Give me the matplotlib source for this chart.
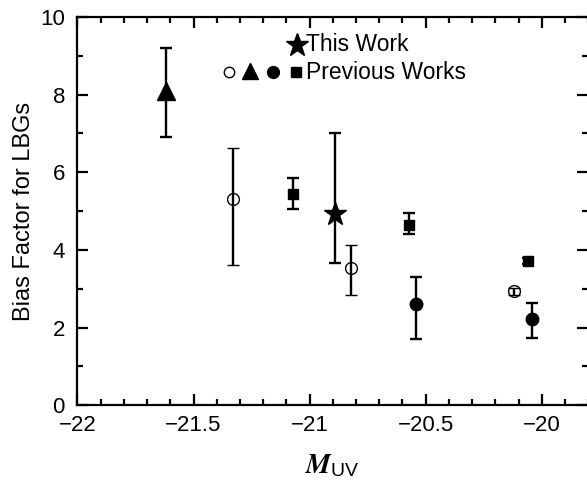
import numpy as np
from matplotlib import pyplot as plt

plt.rcParams['font.family'] = ['Liberation Sans', 'DejaVu Sans']
plt.rcParams['mathtext.fontset'] = 'stix'

# M_UV, bias, upper and lower errors
star_x = [-20.89]
star_y = [4.92]
star_up = [2.08]
star_lo = [1.25]

tri_x = [-21.62]
tri_y = [8.1]
tri_up = [1.1]
tri_lo = [1.2]

open_x = [-21.33, -20.82, -20.12]
open_y = [5.32, 3.53, 2.93]
open_up = [1.3, 0.6, 0.1]
open_lo = [1.7, 0.7, 0.1]

fill_x = [-20.54, -20.04]
fill_y = [2.6, 2.22]
fill_up = [0.7, 0.4]
fill_lo = [0.9, 0.5]

sq_x = [-21.07, -20.57, -20.06]
sq_y = [5.45, 4.65, 3.72]
sq_up = [0.4, 0.3, 0.08]
sq_lo = [0.4, 0.25, 0.08]


def main():
    fig = plt.figure(figsize=(5.87, 4.87), dpi=100)
    ax = fig.add_axes([0.132, 0.168, 0.87, 0.797])

    err_kw = dict(ls='none', ecolor='black', elinewidth=1.7, capsize=4, capthick=1.7, color='black')
    ax.errorbar(tri_x, tri_y, yerr=[tri_lo, tri_up], marker='^', ms=13, **err_kw)
    ax.errorbar(open_x, open_y, yerr=[open_lo, open_up], marker='o', ms=8.5, mfc='none', mew=1.0, **err_kw)
    ax.errorbar(fill_x, fill_y, yerr=[fill_lo, fill_up], marker='o', ms=9, **err_kw)
    ax.errorbar(sq_x, sq_y, yerr=[sq_lo, sq_up], marker='s', ms=7.5, **err_kw)
    ax.errorbar(star_x, star_y, yerr=[star_lo, star_up], marker='*', ms=17, **err_kw)

    # hand-made legend
    t = ax.transAxes
    ax.plot([0.43], [0.928], marker='*', ms=17, color='black', transform=t, clip_on=False)
    ax.text(0.448, 0.928, 'This Work', transform=t, fontsize=16.5, va='center', ha='left')
    ax.plot([0.297], [0.858], marker='o', ms=7.5, mfc='white', mec='black', mew=1.0, transform=t)
    ax.plot([0.338], [0.862], marker='^', ms=12, color='black', transform=t)
    ax.plot([0.383], [0.858], marker='o', ms=8.5, color='black', transform=t)
    ax.plot([0.428], [0.858], marker='s', ms=7, color='black', transform=t)
    ax.text(0.448, 0.858, 'Previous Works', transform=t, fontsize=16.5, va='center', ha='left')

    ax.set_xlim(-22, -19.8)
    ax.set_ylim(0, 10)
    ax.set_xticks([-22, -21.5, -21, -20.5, -20])
    ax.set_xticklabels(['\u221222', '\u221221.5', '\u221221', '\u221220.5', '\u221220'])
    ax.set_xticks(np.arange(-22, -19.79, 0.1), minor=True)
    ax.set_yticks([0, 2, 4, 6, 8, 10])
    ax.set_yticks(range(0, 11), minor=True)
    ax.tick_params(which='both', direction='in', top=True, right=True, width=1.6, labelsize=16)
    ax.tick_params(axis='x', pad=7)
    ax.tick_params(axis='y', pad=9)
    ax.tick_params(which='major', length=8)
    ax.tick_params(which='minor', length=4)
    for s in ax.spines.values():
        s.set_linewidth(1.6)

    ax.set_ylabel('Bias Factor for LBGs', fontsize=17, labelpad=4)
    ax.set_xlabel(r'$\mathbfit{M}_{\mathregular{UV}}$', fontsize=20, labelpad=12)

    fig.savefig('out.png', dpi=100)


if __name__ == '__main__':
    main()
